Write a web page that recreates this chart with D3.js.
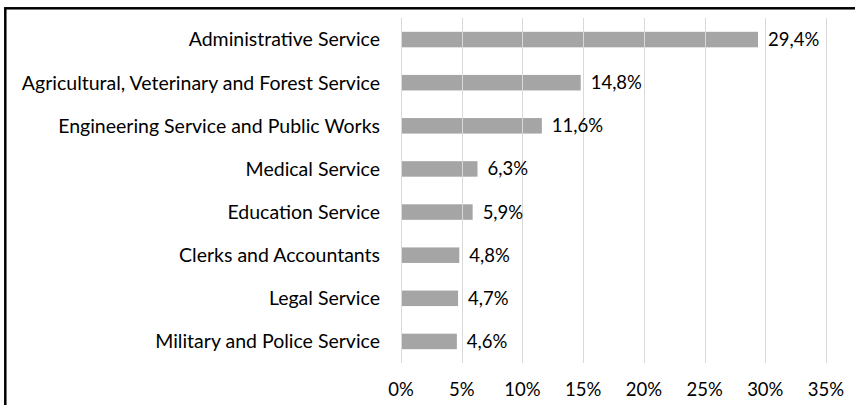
<!DOCTYPE html>
<html>
<head>
<meta charset="utf-8">
<script src="https://cdn.jsdelivr.net/npm/d3@7"></script>
<style>
  body { margin: 0; background: #fff; }
  text { font-family: Lato, "Open Sans", sans-serif; fill: #000; }
</style>
</head>
<body>
<script>
// categories top to bottom, values in percent
var categories = [
  "Administrative Service",
  "Agricultural, Veterinary and Forest Service",
  "Engineering Service and Public Works",
  "Medical Service",
  "Education Service",
  "Clerks and Accountants",
  "Legal Service",
  "Military and Police Service"
];
var values = [29.4, 14.8, 11.6, 6.3, 5.9, 4.8, 4.7, 4.6];
var ticks = [0, 5, 10, 15, 20, 25, 30, 35];

var width = 855, height = 405;

var svg = d3.select("body").append("svg")
  .attr("width", width)
  .attr("height", height);

// frame of the chart area (cut off at right and bottom)
svg.append("rect")
  .attr("x", 5.3).attr("y", 8.3)
  .attr("width", 1000).attr("height", 1000)
  .attr("fill", "none")
  .attr("stroke", "#000")
  .attr("stroke-width", 2.5);

var x = d3.scaleLinear().domain([0, 35]).range([401, 826]);
var y = d3.scaleBand().domain(categories).range([18, 363])
  .paddingInner(0.64).paddingOuter(0.32);

var fmt = function(v) { return d3.format(".1f")(v).replace(".", ",") + "%"; };

// bars
svg.selectAll("rect.bar")
  .data(values)
  .enter().append("rect")
  .attr("class", "bar")
  .attr("x", x(0))
  .attr("y", function(d, i) { return y(categories[i]); })
  .attr("width", function(d) { return x(d) - x(0); })
  .attr("height", y.bandwidth())
  .attr("fill", "#a5a5a5");

// gridlines (they show through the bars in the original)
svg.selectAll("line.grid")
  .data(ticks)
  .enter().append("line")
  .attr("class", "grid")
  .attr("x1", function(d) { return Math.round(x(d)) + 0.5; })
  .attr("x2", function(d) { return Math.round(x(d)) + 0.5; })
  .attr("y1", 18).attr("y2", 363)
  .attr("stroke", "#d9d9d9")
  .attr("stroke-width", 1);

// category labels
svg.selectAll("text.cat")
  .data(categories)
  .enter().append("text")
  .attr("class", "cat")
  .attr("x", 380)
  .attr("y", function(d) { return y(d) + y.bandwidth() / 2; })
  .attr("dy", "0.35em")
  .attr("text-anchor", "end")
  .attr("font-size", "19.5px")
  .text(function(d) { return d; });

// value labels
svg.selectAll("text.val")
  .data(values)
  .enter().append("text")
  .attr("class", "val")
  .attr("x", function(d) { return x(d) + 10; })
  .attr("y", function(d, i) { return y(categories[i]) + y.bandwidth() / 2; })
  .attr("dy", "0.35em")
  .attr("font-size", "18.5px")
  .text(fmt);

// x axis tick labels
svg.selectAll("text.tick")
  .data(ticks)
  .enter().append("text")
  .attr("class", "tick")
  .attr("x", function(d) { return x(d); })
  .attr("y", 390)
  .attr("dy", "0.35em")
  .attr("text-anchor", "middle")
  .attr("font-size", "18.5px")
  .text(function(d) { return d + "%"; });
</script>
</body>
</html>
